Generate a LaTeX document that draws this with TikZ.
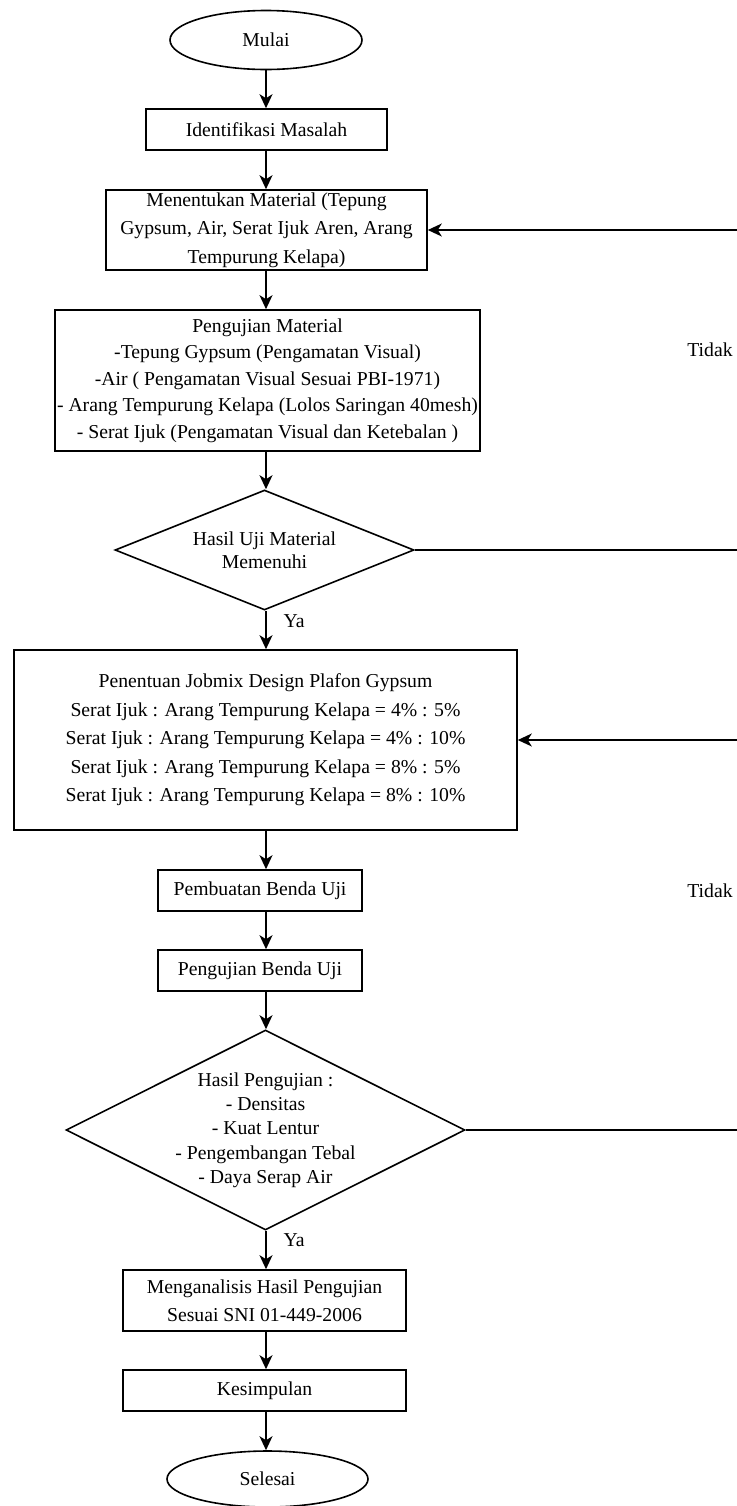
\documentclass[tikz,border=0pt]{standalone}
\usepackage{fontspec}
\setmainfont{Liberation Serif}
\usetikzlibrary{shapes.geometric,arrows.meta}

\begin{document}
\begin{tikzpicture}[x=0.5pt,y=-0.5pt,
        every node/.style={font=\fontsize{9.85}{14.25}\selectfont},
        kotak/.style={draw, line width=0.8pt, align=center, inner sep=0pt},
        oval/.style={draw, ellipse, line width=0.8pt, inner sep=0pt},
        belah/.style={draw, diamond, line width=0.8pt, inner sep=0pt},
        panah/.style={line width=0.8pt, -{Stealth[length=7pt,width=6.5pt,inset=2pt]}}]
                \useasboundingbox (0,0) rectangle (736,1506);
                \coordinate (sumbu) at (266,0);
                \coordinate (balik) at (738,0);
                % alur utama
                \node[oval, minimum width=96pt, minimum height=29.5pt] (mulai) at (266,40) {Mulai};
                \node[kotak, minimum width=120.5pt, minimum height=20.5pt] (identifikasi) at (266.5,129.5) {Identifikasi Masalah};
                \node[kotak, minimum width=160.5pt, minimum height=40pt] (menentukan) at (266.5,230) {Menentukan Material (Tepung\\Gypsum, Air, Serat Ijuk Aren, Arang\\Tempurung Kelapa)};
                \node[kotak, minimum width=212.5pt, minimum height=70.5pt, font=\fontsize{9.85}{13.25}\selectfont] (pengujian) at (267.5,380.5) {Pengujian Material\\-Tepung Gypsum (Pengamatan Visual)\\-Air ( Pengamatan Visual Sesuai PBI-1971)\\- Arang Tempurung Kelapa (Lolos Saringan 40mesh)\\- Serat Ijuk (Pengamatan Visual dan Ketebalan )};
                \node[belah, minimum width=149.5pt, minimum height=60pt, label={[align=center, font=\fontsize{9.85}{11.5}\selectfont]center:{Hasil Uji Material\\Memenuhi}}] (cek1) at (264.5,550) {};
                \node[kotak, minimum width=251.5pt, minimum height=90pt] (jobmix) at (265.5,740) {Penentuan Jobmix Design Plafon Gypsum\\Serat Ijuk : Arang Tempurung Kelapa = 4\% : 5\%\\Serat Ijuk : Arang Tempurung Kelapa = 4\% : 10\%\\Serat Ijuk : Arang Tempurung Kelapa = 8\% : 5\%\\Serat Ijuk : Arang Tempurung Kelapa = 8\% : 10\%};
                \node[kotak, minimum width=102pt, minimum height=20.5pt] (pembuatan) at (260,890.5) {Pembuatan Benda Uji};
                \node[kotak, minimum width=102pt, minimum height=20.5pt] (pengujianbenda) at (260,970.5) {Pengujian Benda Uji};
                \node[belah, minimum width=199.5pt, minimum height=100pt, label={[align=center, font=\fontsize{9.85}{12.15}\selectfont]center:{Hasil Pengujian :\\- Densitas\\- Kuat Lentur\\- Pengembangan Tebal\\- Daya Serap Air}}] (cek2) at (265.5,1130) {};
                \node[kotak, minimum width=141.5pt, minimum height=30.5pt] (analisis) at (264.5,1300.5) {Menganalisis Hasil Pengujian\\Sesuai SNI 01-449-2006};
                \node[kotak, minimum width=141.5pt, minimum height=20.5pt] (kesimpulan) at (264.5,1390.5) {Kesimpulan};
                \node[oval, minimum width=100.5pt, minimum height=28pt] (selesai) at (267.5,1479) {Selesai};
                \foreach \a/\b in {mulai/identifikasi, identifikasi/menentukan, menentukan/pengujian, pengujian/cek1, cek1/jobmix, jobmix/pembuatan, pembuatan/pengujianbenda, pengujianbenda/cek2, cek2/analisis, analisis/kesimpulan, kesimpulan/selesai} {
                        \draw[panah] (\a.south -| sumbu) -- (\b.north -| sumbu);
                    }
                % umpan balik
                \draw[panah] (cek1.east) -- (cek1.east -| balik) |- (menentukan.east);
                \draw[panah] (cek2.east) -- (cek2.east -| balik) |- (jobmix.east);
                \node (tidak1) at (710,350) {Tidak};
                \node (tidak2) at (710,891) {Tidak};
                \node (ya1) at (294,621) {Ya};
                \node (ya2) at (294,1240) {Ya};
            \end{tikzpicture}
\end{document}
